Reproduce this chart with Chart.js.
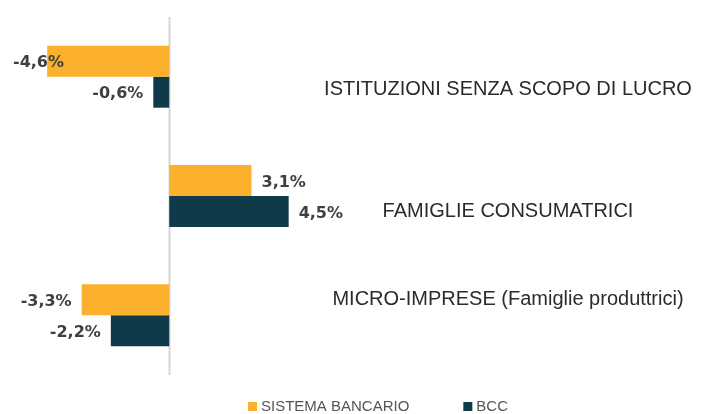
<!DOCTYPE html>
<html>
<head>
<meta charset="utf-8">
<script src="https://cdn.jsdelivr.net/npm/chart.js@4/dist/chart.umd.min.js"></script>
<style>
    html, body { margin: 0; padding: 0; background: #fff; }
    .chart-wrap { width: 702px; height: 414px; position: relative; }
</style>
</head>
<body>
<div class="chart-wrap"><canvas id="chart"></canvas></div>
<script>
// categories and series (variazioni %)
const categories = [
    'ISTITUZIONI SENZA SCOPO DI LUCRO',
    'FAMIGLIE CONSUMATRICI',
    'MICRO-IMPRESE (Famiglie produttrici)'
];
const seriesNames = ['SISTEMA BANCARIO', 'BCC'];
const sistemaBancario = [-4.6, 3.1, -3.3];
const bcc = [-0.6, 4.5, -2.2];

const colors = ['#FBB12D', '#0E3A4A'];

const fmt = (v) => v.toFixed(1).replace('.', ',') + '%';

// zero line, value labels, category texts and legend
const decorations = {
    id: 'decorations',
    beforeDatasetsDraw(chart) {
        const { ctx, chartArea, scales } = chart;
        const x0 = Math.round(scales.x.getPixelForValue(0)) + 0.5;
        ctx.save();
        ctx.strokeStyle = '#d6d6d6';
        ctx.lineWidth = 2;
        ctx.beginPath();
        ctx.moveTo(x0, chartArea.top);
        ctx.lineTo(x0, chartArea.bottom);
        ctx.stroke();
        ctx.restore();
    },
    afterDatasetsDraw(chart) {
        const { ctx, scales } = chart;
        ctx.save();

        // value labels
        ctx.font = 'bold 16px "DejaVu Sans"';
        ctx.fillStyle = '#404040';
        ctx.textBaseline = 'middle';
        chart.data.datasets.forEach((ds, di) => {
            chart.getDatasetMeta(di).data.forEach((bar, i) => {
                const v = ds.data[i];
                const txt = fmt(v);
                const w = ctx.measureText(txt).width;
                let left = v < 0 ? bar.x - 10 - w : bar.x + 10;
                if (left < 13) left = 13;
                ctx.textAlign = 'left';
                ctx.fillText(txt, left, bar.y + 2);
            });
        });

        // category texts on the right
        const yOffsets = [13, 15, -16];
        ctx.font = '20px "Liberation Sans"';
        ctx.fillStyle = '#2b2b2b';
        ctx.textAlign = 'center';
        chart.data.labels.forEach((lab, i) => {
            const y = scales.y.getPixelForValue(i) + yOffsets[i];
            ctx.fillText(lab, 508, y);
        });

        // legend
        ctx.font = '15px "Liberation Sans"';
        ctx.textAlign = 'left';
        const items = chart.data.datasets.map(ds => ({ label: ds.label, color: ds.backgroundColor }));
        const gap = 54;
        const widths = items.map(it => 13 + ctx.measureText(it.label).width);
        const total = widths.reduce((a, b) => a + b, 0) + gap * (items.length - 1);
        let x = 386 - total / 2 - 8;
        const ly = 406;
        items.forEach((it, i) => {
            ctx.fillStyle = it.color;
            ctx.fillRect(x, ly - 4, 9, 9);
            ctx.fillStyle = '#555';
            ctx.fillText(it.label, x + 13, ly + 1);
            x += widths[i] + gap;
        });

        ctx.restore();
    }
};

new Chart(document.getElementById('chart'), {
    type: 'bar',
    data: {
        labels: categories,
        datasets: [
            { label: seriesNames[0], data: sistemaBancario, backgroundColor: colors[0] },
            { label: seriesNames[1], data: bcc, backgroundColor: colors[1] }
        ]
    },
    options: {
        indexAxis: 'y',
        responsive: true,
        maintainAspectRatio: false,
        animation: false,
        categoryPercentage: 0.52,
        barPercentage: 1,
        layout: {
            padding: { left: 10, right: 2, top: 17, bottom: 39 }
        },
        scales: {
            x: { display: false, min: -6, max: 20 },
            y: { display: false }
        },
        plugins: {
            legend: { display: false },
            tooltip: { enabled: false }
        }
    },
    plugins: [decorations]
});
</script>
</body>
</html>
